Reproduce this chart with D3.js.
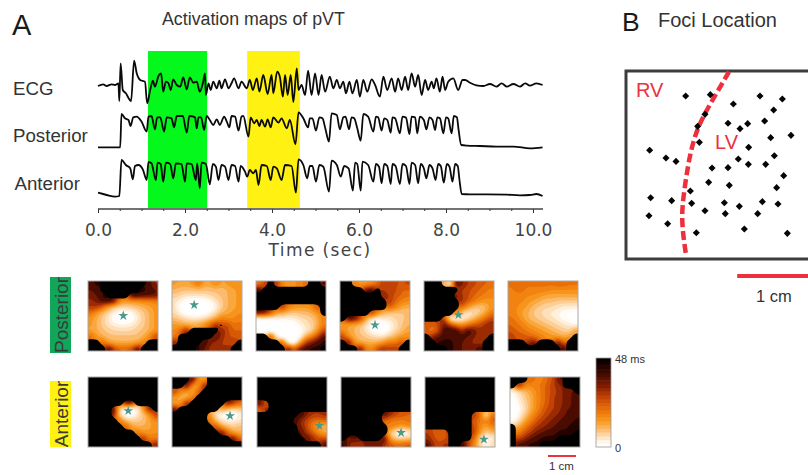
<!DOCTYPE html>
<html>
<head>
<meta charset="utf-8">
<script src="https://cdn.jsdelivr.net/npm/d3@7"></script>
<style>
  html, body { margin: 0; padding: 0; background: #fff; overflow: hidden; }
  text { font-family: "Liberation Sans", Arial, sans-serif; fill: #333; }
</style>
</head>
<body>
<div class="vis-holder"></div>
<script>
// time of each trace point (sec) and its height (arbitrary units)
var ecgTime = [0,0.12,0.2,0.31,0.39,0.47,0.49,0.52,0.57,0.64,0.76,0.83,0.89,0.97,1.08,1.13,1.2,1.26,1.31,1.39,1.45,1.5,1.56,1.62,1.67,1.73,1.81,1.89,1.96,2.04,2.11,2.19,2.27,2.34,2.41,2.46,2.48,2.54,2.59,2.65,2.73,2.79,2.84,2.92,3,3.07,3.13,3.23,3.3,3.42,3.49,3.56,3.65,3.71,3.8,3.9,3.99,4.03,4.12,4.18,4.25,4.3,4.36,4.43,4.49,4.57,4.61,4.68,4.76,4.83,4.91,4.99,5.07,5.14,5.22,5.33,5.41,5.49,5.56,5.64,5.7,5.78,5.85,5.95,6.02,6.1,6.19,6.29,6.37,6.48,6.56,6.65,6.75,6.83,6.9,6.98,7.06,7.13,7.21,7.29,7.36,7.44,7.52,7.59,7.67,7.72,7.78,7.86,7.92,7.98,8.05,8.17,8.28,8.38,8.44,8.55,8.7,8.86,9.01,9.16,9.28,9.4,9.55,9.7,9.82,9.93,10.08,10.22];
var ecgValue = [0,1.7,0,1.7,1,2.7,-15,22.7,-4,-7.3,-15,25.3,12.7,6,4.3,-17.3,-4,5.3,-0.7,10,12.7,-5.7,4.3,2.7,-4,6.7,1,-0.7,8.7,-3.3,8.7,3.3,4.3,-5.7,2.7,12.7,-9,2.7,-4,4.3,-2.3,5.3,-2.3,6.7,-2.3,2.7,7.7,-2.3,4.3,-2.3,6,-4,7.7,-5.7,11,-8,11,-7.3,14.3,9.3,-10.7,11,-9,11,-16,17.7,-4,1,-9,15.3,-9,12.7,-9,11,-5.7,9.3,-2.3,6,-2.3,4.3,-7.3,4.3,-7.3,6,-10.7,6,-5.7,6.7,1,-10.7,9.3,-4,7.7,-5.7,7.7,-4,9.3,-4,12.7,-0.7,11,-9,6,-4,4.3,-2.3,7.7,-5.7,9.3,-4,4.3,7.7,-4,6,6,3.3,0.7,0,2,-0.7,2.7,-0.7,2,-0.7,2.7,0.3,2.7,1];

var posteriorTime = [0,0.51,0.54,0.62,0.7,0.75,0.81,0.89,1,1.12,1.16,1.23,1.31,1.36,1.43,1.52,1.58,1.69,1.75,1.81,1.95,2.04,2.1,2.23,2.27,2.31,2.37,2.44,2.5,2.57,2.65,2.73,2.8,2.9,2.96,3.02,3.07,3.15,3.23,3.3,3.34,3.46,3.51,3.59,3.65,3.71,3.76,3.84,3.9,3.97,4.03,4.15,4.22,4.34,4.41,4.54,4.61,4.72,4.83,4.87,4.93,5.01,5.09,5.16,5.23,5.31,5.37,5.49,5.56,5.64,5.69,5.77,5.83,5.89,5.96,6.04,6.1,6.21,6.33,6.39,6.44,6.52,6.58,6.65,6.73,6.77,6.83,6.94,7,7.08,7.16,7.21,7.29,7.34,7.4,7.49,7.55,7.62,7.69,7.75,7.8,7.86,7.94,8,8.05,8.13,8.18,8.25,8.29,8.35,8.48,8.78,9.16,9.55,9.93,10.22];
var posteriorValue = [0,0,33.3,29,27.3,21.3,30,30.7,25.7,15.7,30.7,31.3,18,30,30,15.7,30,29,20,31.3,31.3,14.7,31.3,30,19,30,30,17.3,31.3,27.3,22.3,28,22.3,30.7,25.7,20,31.3,30.7,16.7,30.7,31.3,10.7,30,24,27.3,21.3,27.3,20.7,28,20,30,24.7,29,19,27.3,3,35,29,20,29,29,16.7,30,29,18,5.7,34,32.3,18,30,30.7,18,30,29,19,6.7,33.3,30.7,15.7,30.7,30,16.7,29,27.3,14.7,30,29,14,30.7,29.7,13.3,30.7,30,14,30.7,27.3,18,30,27.3,17.3,30,29,14,30,29,14,31.3,30,17.3,2.3,1.7,1.3,0.7,0.7,-1,0];

var anteriorTime = [0,0.2,0.39,0.49,0.54,0.64,0.74,0.8,0.85,0.93,1.03,1.12,1.16,1.23,1.33,1.37,1.44,1.5,1.56,1.66,1.73,1.79,1.92,2,2.04,2.15,2.25,2.28,2.34,2.38,2.48,2.57,2.64,2.71,2.77,2.84,2.92,3,3.07,3.15,3.23,3.28,3.38,3.43,3.49,3.57,3.63,3.69,3.76,3.88,3.97,4.03,4.11,4.22,4.3,4.45,4.55,4.61,4.72,4.81,4.87,4.93,5.01,5.09,5.18,5.31,5.37,5.49,5.58,5.66,5.76,5.86,5.91,5.96,6.04,6.08,6.21,6.33,6.39,6.46,6.52,6.58,6.65,6.73,6.77,6.84,6.94,7,7.08,7.16,7.21,7.29,7.36,7.42,7.49,7.55,7.62,7.69,7.76,7.82,7.88,7.95,8.02,8.08,8.15,8.21,8.27,8.31,8.36,8.55,8.94,9.4,9.7,9.93,10.08,10.22];
var anteriorValue = [3.3,1,-0.7,0,36,31,27.7,16.7,30,31,26.7,16,34,32.7,16,33.3,32,14.3,33.3,32,17.7,32.7,32,14.3,32.7,32,16,32.7,7.7,33.3,32,11.7,32,29.3,16,31,29.3,16,31,30,14.3,30,24.3,19.3,26,22.7,26,11,31,30,16,29.3,27.7,16,31,30,3.3,36.7,31,17.7,30,30,14.3,31,29.3,4.3,35.3,31,19.3,30,27.7,5.3,33.3,32,5.3,34.3,31,14.3,32,29.3,12.7,32,30,12,32,30,12,32,30,12,33.3,31,12.7,32,27.7,17.7,31,27.7,16,32,30,13.3,32,29.3,14.3,32,30,16,2,1.7,1.7,1.3,0.7,1,2,0];

// time windows of the two highlighted episodes (sec)
var greenWindow = [1.15, 2.51];
var yellowWindow = [3.43, 4.64];
var majorTicks = [0, 2, 4, 6, 8, 10];
var minorTicks = [0.5, 1, 1.5, 2.5, 3, 3.5, 4.5, 5, 5.5, 6.5, 7, 7.5, 8.5, 9, 9.5];

// foci, x and y in mm from the top left corner of the frame
var fociX = [7.14,10.04,12.75,15.88,18.51,17.49,12.12,14.43,13.53,16.43,8.55,8.75,17.14,19.53,14.55,2.9,4.82,6,13.33,17.57,14.51,16.55,10.24,12.12,18.67,9.84,12.27,17.84,7.69,3.02,5.49,7.84,11.69,16.16,18,13.45,9.41,11.8,15.61,2.82,5.02,8.39,14.04,19.1,9.41];
var fociY = [3.06,2.9,4,3.06,3.41,4.71,6.27,6.31,6.9,6,6.63,8.51,7.96,7.69,9.1,9.45,10.35,10.75,10.47,10.08,11.1,11.1,11.53,11.49,12.43,13.22,13.57,13.84,14.24,15.02,15.37,15.69,15.61,15.49,15.76,16.04,16.55,16.9,16.9,17.14,18.08,19.14,18.71,19.22,5.22];
// RV / LV border, mm
var borderX = [12.24,10.98,9.61,8.51,7.76,7.33,6.86,6.67,6.86,7.18];
var borderY = [0.2,2.35,4.71,6.86,9.41,11.76,14.9,17.25,19.6,21.76];

// activation maps, shade level read from the map colours on a 12x12 grid, 48 = black (not activated)
var posteriorMaps = [
 [[44,46,48,48,48,48,48,48,48,48,44,38],[42,44,48,48,48,48,48,48,48,46,44,42],[40,42,46,48,48,48,48,46,46,44,44,42],[38,40,44,46,44,24,22,22,22,24,24,26],[36,36,30,20,14,12,12,14,16,18,20,22],[28,22,16,12,6,2,2,4,10,14,18,22],[22,18,14,8,2,0,0,2,8,14,18,22],[22,18,14,10,8,6,6,8,12,14,18,22],[20,18,16,14,12,12,12,12,14,16,18,22],[30,22,18,16,16,16,16,16,16,18,24,36],[48,48,30,20,18,18,18,18,18,26,48,48],[48,48,48,46,34,30,30,32,46,48,48,48]],
 [[22,20,20,22,30,20,20,26,20,22,24,24],[18,16,16,16,16,16,16,16,16,18,20,22],[14,12,10,10,10,10,12,14,16,18,20,22],[10,6,2,0,0,2,4,10,14,18,20,22],[10,2,0,0,0,0,2,6,14,18,20,22],[12,6,2,0,0,2,6,12,18,20,22,24],[16,14,12,10,10,12,16,20,28,24,24,26],[22,20,18,18,20,24,30,40,48,34,28,28],[24,30,44,48,48,48,48,48,40,34,30,30],[26,48,48,48,48,48,48,44,38,34,32,32],[40,48,48,48,48,46,40,38,36,34,36,48],[48,48,48,48,46,42,38,36,36,38,48,48]],
 [[26,34,48,38,24,22,24,24,30,48,48,42],[46,48,48,48,48,48,48,48,48,48,48,48],[48,48,48,48,48,48,48,48,48,48,48,48],[48,48,48,48,48,48,48,48,48,48,48,48],[48,48,48,48,40,26,24,22,22,24,34,48],[44,44,34,22,18,16,14,16,16,18,22,48],[2,2,4,6,6,6,8,10,12,14,18,28],[0,0,0,0,0,0,2,6,10,12,18,26],[6,2,0,0,0,0,0,2,8,12,22,34],[48,48,40,8,0,0,0,4,18,26,34,44],[48,48,48,48,36,4,0,18,36,40,44,46],[48,48,48,48,48,44,30,42,44,46,46,48]],
 [[48,48,26,22,22,24,30,36,34,34,32,34],[48,48,48,48,44,46,48,36,34,34,30,30],[48,48,48,48,48,48,48,38,36,32,30,28],[48,48,48,48,48,48,48,48,36,30,26,24],[48,48,48,48,48,48,48,48,32,26,20,18],[48,48,48,48,48,40,24,18,14,14,14,16],[48,46,44,36,20,8,6,8,10,12,14,16],[22,20,18,16,10,2,0,0,4,10,14,18],[24,20,18,14,10,4,0,0,6,12,16,20],[36,22,18,16,14,12,10,10,14,18,22,24],[48,46,22,18,18,18,18,22,28,26,34,48],[48,48,48,44,26,24,34,38,34,36,48,48]],
 [[48,48,48,20,6,46,40,36,34,32,30,30],[48,48,48,48,48,48,36,34,32,30,28,26],[48,48,48,48,48,42,36,34,30,28,26,24],[48,48,48,48,48,48,38,32,28,24,22,24],[48,48,48,48,48,48,30,22,16,14,16,22],[48,48,48,48,48,28,14,8,10,14,20,28],[48,48,48,38,6,2,6,12,18,24,30,34],[34,30,34,42,36,28,24,28,32,34,38,40],[30,26,34,46,46,46,48,46,42,38,36,38],[48,40,42,44,44,44,44,42,40,36,36,48],[48,48,46,46,46,44,42,40,38,36,48,48],[48,48,48,48,46,44,42,40,40,46,48,48]],
 [[28,30,28,28,28,28,28,28,30,30,28,28],[26,28,28,26,26,26,26,24,24,24,24,24],[26,26,26,24,24,22,20,20,20,20,20,20],[26,26,24,22,20,18,16,16,14,14,14,14],[26,24,22,20,16,14,12,12,10,8,8,8],[26,24,20,18,14,12,10,8,6,4,2,0],[28,26,22,18,16,14,12,10,8,4,2,0],[30,28,26,22,20,18,16,14,12,10,8,6],[32,30,28,26,24,22,20,18,16,14,12,22],[36,32,32,30,28,26,24,22,20,18,22,48],[48,48,48,38,44,48,48,48,44,30,48,48],[48,48,48,48,48,48,48,48,48,46,48,48]]
];
var anteriorMaps = [
 [[48,48,48,48,48,48,48,48,48,48,48,48],[48,48,48,48,48,48,48,48,48,48,48,48],[48,48,48,48,48,48,48,48,48,48,48,48],[48,48,48,48,48,48,48,48,48,48,48,48],[48,48,48,48,48,48,44,44,48,48,48,48],[48,48,48,48,46,10,2,0,6,24,44,48],[48,48,48,48,40,10,2,2,10,14,22,36],[48,48,48,48,48,30,16,14,14,16,20,24],[48,48,48,48,48,48,34,20,18,18,20,22],[48,48,48,48,48,48,48,48,28,22,22,24],[48,48,48,48,48,48,48,48,48,40,26,26],[48,48,48,48,48,48,48,48,48,48,48,40]],
 [[48,48,48,46,24,20,48,48,48,48,48,48],[48,48,46,24,18,44,48,48,48,48,48,48],[36,24,22,16,34,48,48,48,48,48,48,48],[22,18,16,30,48,48,48,48,48,48,48,48],[20,22,44,48,48,48,48,48,48,44,38,30],[44,48,48,48,48,48,48,48,22,16,12,14],[48,48,48,48,48,48,24,10,2,0,0,6],[48,48,48,48,48,48,30,16,10,8,6,10],[48,48,48,48,48,48,48,36,20,16,14,16],[48,48,48,48,48,48,48,48,46,30,20,18],[48,48,48,48,48,48,48,48,48,48,46,30],[48,48,48,48,48,48,48,48,48,48,48,48]],
 [[48,48,48,48,48,48,48,48,48,48,48,48],[48,48,48,48,48,48,48,48,48,48,48,48],[48,48,48,48,48,48,48,48,48,48,48,48],[48,48,48,48,48,48,48,48,48,48,48,48],[46,30,48,48,48,48,48,48,48,48,48,48],[28,40,48,48,48,48,48,48,48,48,48,48],[48,48,48,48,48,48,48,46,40,36,36,38],[48,48,48,48,48,48,46,38,34,30,28,30],[48,48,48,48,48,48,48,40,34,26,20,16],[48,48,48,48,48,48,48,44,36,32,24,20],[48,48,48,48,48,48,48,48,44,38,34,32],[48,48,48,48,48,48,48,48,48,48,48,44]],
 [[48,48,48,48,48,48,48,48,48,48,48,48],[48,48,48,48,48,48,48,48,48,48,48,48],[48,48,48,48,48,48,48,48,48,48,48,48],[48,48,48,48,48,48,48,48,48,48,48,48],[48,48,48,48,48,48,48,48,48,48,48,48],[48,48,48,48,48,48,48,48,48,48,48,48],[48,48,48,48,48,48,48,44,38,34,32,30],[48,48,48,48,48,48,48,30,26,26,26,28],[48,48,48,48,48,48,48,48,28,24,22,24],[48,48,48,48,48,48,48,48,14,6,0,6],[48,42,44,48,48,48,48,46,20,12,12,14],[46,38,36,38,40,42,42,36,32,30,30,32]],
 [[48,48,48,48,48,48,48,48,48,48,48,48],[48,48,48,48,48,48,48,48,48,48,48,48],[48,48,48,48,48,48,48,48,48,48,48,48],[48,48,48,48,48,48,48,48,48,48,48,48],[48,48,48,48,48,48,48,48,48,48,48,48],[48,48,48,48,48,48,48,48,48,48,48,48],[48,48,48,48,48,48,48,48,36,30,6,30],[48,48,48,48,48,48,48,48,32,26,26,32],[48,48,48,48,48,48,48,48,34,24,20,26],[36,32,30,34,48,48,48,48,36,22,14,18],[38,34,30,32,48,48,48,48,30,10,2,8],[44,36,34,38,48,48,46,34,24,12,4,12]],
 [[48,48,48,30,26,26,30,34,44,48,48,48],[48,44,26,24,26,28,32,36,38,48,48,48],[6,10,16,20,24,28,32,34,38,40,42,48],[2,8,14,18,24,28,32,36,38,40,42,44],[0,6,12,18,24,28,32,36,38,40,42,44],[0,4,10,18,24,30,34,36,38,42,42,44],[0,6,14,22,28,32,36,38,40,42,44,44],[4,10,20,26,32,36,38,40,42,44,44,46],[48,20,26,32,36,38,40,42,44,44,46,46],[48,26,32,36,40,42,44,44,46,46,46,48],[48,34,38,42,44,46,46,46,48,48,48,48],[48,44,44,46,46,48,48,48,48,48,48,48]]
];
// earliest activation site in each map as [column, row] of the grid
var posteriorStars = [[6.05,5.95],[3.8,4.1],null,[6,7.55],[5.9,5.8],null];
var anteriorStars = [[6.9,5.8],[9.95,6.65],[10.7,8.35],[10.3,9.55],[10.1,10.7],null];

var width = 808;
var height = 475;

var svg = d3.select(".vis-holder")
			.append("svg")
			.attr("width", width)
			.attr("height", height)
			.style("display", "block");

// ---- panel A, traces ----
var xScale = d3.scaleLinear().domain([0, 10.23]).range([98, 543]);

function addBand(win, color) {
	svg.append("rect")
	   .attr("x", xScale(win[0]))
	   .attr("y", 51)
	   .attr("width", xScale(win[1]) - xScale(win[0]))
	   .attr("height", 157)
	   .attr("fill", color);
}
addBand(greenWindow, "#04f81c");
addBand(yellowWindow, "#fff112");

function addTrace(times, values, base) {
	// 1 unit is 1 px, base is where the zero of the trace sits
	var yScale = d3.scaleLinear().domain([0, 40]).range([base, base - 40]);
	var line = d3.line()
				 .x(function(d, i) { return xScale(times[i]); })
				 .y(function(d) { return yScale(d); })
				 .curve(d3.curveMonotoneX);
	svg.append("path")
	   .attr("d", line(values))
	   .attr("fill", "none")
	   .attr("stroke", "#0a0a0a")
	   .attr("stroke-width", 1.8)
	   .attr("stroke-linejoin", "round");
}
addTrace(ecgTime, ecgValue, 86);
addTrace(posteriorTime, posteriorValue, 147.3);
addTrace(anteriorTime, anteriorValue, 196);

// axis, long ticks with labels and short ones without
var axisY = 209;
var majorAxis = svg.append("g")
				   .attr("transform", "translate(0," + axisY + ")")
				   .call(d3.axisBottom(xScale).tickValues(majorTicks).tickSize(4).tickFormat(d3.format(".1f")));
var minorAxis = svg.append("g")
				   .attr("transform", "translate(0," + axisY + ")")
				   .call(d3.axisBottom(xScale).tickValues(minorTicks).tickSize(2).tickFormat(""));
majorAxis.select(".domain").attr("stroke", "#444").attr("stroke-width", 1.6).attr("d", "M98,0H543");
minorAxis.select(".domain").remove();
svg.selectAll(".tick line").attr("stroke", "#333");
majorAxis.selectAll(".tick text")
		 .attr("y", 14)
		 .attr("dy", 13)
		 .style("font-family", "'DejaVu Sans'")
		 .style("font-size", "17px")
		 .style("fill", "#444");

svg.append("text")
   .attr("x", 320)
   .attr("y", 256)
   .attr("text-anchor", "middle")
   .style("font-family", "'DejaVu Sans'")
   .style("font-size", "17px")
   .style("letter-spacing", "1.4px")
   .style("fill", "#444")
   .text("Time (sec)");

function addLabel(x, y, size, str, color) {
	return svg.append("text")
			  .attr("x", x)
			  .attr("y", y)
			  .style("font-size", size + "px")
			  .style("fill", color || "#333")
			  .text(str);
}
addLabel(12, 35, 29, "A", "#1a1a1a");
addLabel(162, 25, 17.8, "Activation maps of pVT");
addLabel(13, 95, 18.7, "ECG");
addLabel(13, 142, 18.7, "Posterior");
addLabel(14.5, 190, 18.7, "Anterior");

// ---- panel B, foci ----
addLabel(622, 31, 26.5, "B", "#1a1a1a");
addLabel(658, 27, 20, "Foci Location");

var frame = { x: 625, y: 70 };
var mmX = d3.scaleLinear().domain([0, 10]).range([frame.x, frame.x + 85]);
var mmY = d3.scaleLinear().domain([0, 10]).range([frame.y, frame.y + 85]);

svg.append("rect")
   .attr("x", frame.x + 1)
   .attr("y", frame.y + 1)
   .attr("width", 200)
   .attr("height", 188)
   .attr("fill", "none")
   .attr("stroke", "#3c3c3c")
   .attr("stroke-width", 3);

var border = d3.line()
			   .x(function(d, i) { return mmX(borderX[i]); })
			   .y(function(d) { return mmY(d); })
			   .curve(d3.curveBasis);
svg.append("path")
   .attr("d", border(borderY))
   .attr("fill", "none")
   .attr("stroke", "#ee2f3c")
   .attr("stroke-width", 4.5)
   .attr("stroke-dasharray", "9 4");

svg.append("g")
   .selectAll("path")
   .data(fociX)
   .enter()
   .append("path")
   .attr("d", d3.symbol(d3.symbolDiamond2, 32))
   .attr("transform", function(d, i) { return "translate(" + mmX(d) + "," + mmY(fociY[i]) + ")"; })
   .attr("fill", "#050505");

addLabel(636, 97, 20, "RV", "#ee3040");
addLabel(715, 149, 20, "LV", "#ee3040");

svg.append("rect").attr("x", mmX(13.2)).attr("y", 274).attr("width", 85).attr("height", 4).attr("fill", "#ee2f3c");
addLabel(756, 302, 16.5, "1 cm");

// ---- activation maps ----
var shadeStops = [0, 4, 8, 14, 20, 26, 32, 38, 44, 48];
var shadeColors = ["#ffffff", "#fffaf2", "#fee6c8", "#fcc27c", "#f99a1e", "#ee780a", "#cc4a06", "#821c02", "#2e0400", "#000000"];
var colorScale = d3.scaleLinear().domain(shadeStops).range(shadeColors);
// which shade level each ms value of the colour bar has
var barMs = [0, 5, 9, 14, 19, 26, 33, 42, 48];
var barShade = [0, 8, 14, 20, 26, 32, 38, 44, 48];
var msToShade = d3.scaleLinear().domain(barMs).range(barShade);

var mapThresholds = d3.range(0, 47, 3);
var mapSize = 70;
var gridSize = 12;
var cell = mapSize / gridSize;
var upscale = 4;

// left edges of the maps in the two rows
var posteriorLeft = [88, 172, 256, 340, 424, 508];
var anteriorLeft = [88, 172, 257, 341, 425, 510];
var posteriorTop = 281;
var anteriorTop = 377;

// black cells take the colour of their neighbours, the black itself is drawn as its own mask
function fillBlack(grid) {
	var out = grid.map(function(row) { return row.map(function(v) { return v >= 47 ? null : v; }); });
	var missing = true;
	var guard = 0;
	while (missing && guard < 30) {
		missing = false;
		guard++;
		var next = out.map(function(row) { return row.slice(); });
		for (var r = 0; r < gridSize; r++) {
			for (var c = 0; c < gridSize; c++) {
				if (out[r][c] !== null) continue;
				var vals = [];
				for (var dr = -1; dr <= 1; dr++) {
					for (var dc = -1; dc <= 1; dc++) {
						if (out[r + dr] && out[r + dr][c + dc] != null) vals.push(out[r + dr][c + dc]);
					}
				}
				if (vals.length) next[r][c] = d3.mean(vals);
				else missing = true;
			}
		}
		out = next;
	}
	return out;
}

// grid with one cell of repeated edge around it, drawn on a finer mesh so contours come out round
function fineGrid(grid, radius) {
	var n = (gridSize + 2) * upscale;
	var data = new Float32Array(n * n);
	function at(r, c) {
		return grid[Math.max(0, Math.min(gridSize - 1, r))][Math.max(0, Math.min(gridSize - 1, c))];
	}
	for (var y = 0; y < n; y++) {
		for (var x = 0; x < n; x++) {
			var fy = (y + 0.5) / upscale - 1.5;
			var fx = (x + 0.5) / upscale - 1.5;
			var r0 = Math.floor(fy);
			var c0 = Math.floor(fx);
			var ty = fy - r0;
			var tx = fx - c0;
			data[y * n + x] = (at(r0, c0) * (1 - tx) + at(r0, c0 + 1) * tx) * (1 - ty) +
							  (at(r0 + 1, c0) * (1 - tx) + at(r0 + 1, c0 + 1) * tx) * ty;
		}
	}
	d3.blur2({ data: data, width: n, height: n }, radius);
	return data;
}

var fineSize = (gridSize + 2) * upscale;
var contourGen = d3.contours().size([fineSize, fineSize]).thresholds(mapThresholds);
var maskGen = d3.contours().size([fineSize, fineSize]).thresholds([0.5]);
var pathGen = d3.geoPath(d3.geoIdentity().scale(cell / upscale).translate([-cell, -cell]));
var defs = svg.append("defs");
defs.append("clipPath").attr("id", "map-clip")
	.append("rect").attr("width", mapSize).attr("height", mapSize);

function addMap(grid, left, top, star) {
	var g = svg.append("g").attr("transform", "translate(" + left + "," + top + ")");
	var inner = g.append("g").attr("clip-path", "url(#map-clip)");
	inner.selectAll(".level")
		 .data(contourGen(fineGrid(fillBlack(grid), 1)))
		 .enter()
		 .append("path")
		 .attr("class", "level")
		 .attr("d", pathGen)
		 .attr("fill", function(d) { return colorScale(d.value); });
	var mask = grid.map(function(row) { return row.map(function(v) { return v >= 47 ? 1 : 0; }); });
	inner.selectAll(".mask")
		 .data(maskGen(fineGrid(mask, 1)))
		 .enter()
		 .append("path")
		 .attr("class", "mask")
		 .attr("d", pathGen)
		 .attr("fill", "#000");
	g.append("rect")
	 .attr("width", mapSize)
	 .attr("height", mapSize)
	 .attr("fill", "none")
	 .attr("stroke", "#a8a8a8")
	 .attr("stroke-width", 1);
	if (star) {
		g.append("path")
		 .attr("d", d3.symbol(d3.symbolStar, 30))
		 .attr("transform", "translate(" + star[0] * cell + "," + star[1] * cell + ")")
		 .attr("fill", "#4a9a8c");
	}
}
posteriorMaps.forEach(function(m, i) { addMap(m, posteriorLeft[i], posteriorTop, posteriorStars[i]); });
anteriorMaps.forEach(function(m, i) { addMap(m, anteriorLeft[i], anteriorTop, anteriorStars[i]); });

// rotated row labels on their coloured tags
function addRowTag(y0, y1, color, str) {
	svg.append("rect").attr("x", 50).attr("y", y0).attr("width", 21).attr("height", y1 - y0).attr("fill", color);
	svg.append("text")
	   .attr("transform", "translate(68," + ((y0 + y1) / 2) + ")rotate(-90)")
	   .attr("text-anchor", "middle")
	   .style("font-size", "19px")
	   .style("fill", "#3a3a3a")
	   .text(str);
}
addRowTag(277, 353, "#12a65a", "Posterior");
addRowTag(381, 447, "#fff112", "Anterior");

// colour bar
var barScale = d3.scaleLinear().domain([0, 48]).range([447, 358]);
svg.append("g")
   .selectAll("rect")
   .data(d3.range(0, 48, 2))
   .enter()
   .append("rect")
   .attr("x", 596)
   .attr("y", function(d) { return barScale(d + 2); })
   .attr("width", 15)
   .attr("height", function(d) { return barScale(d) - barScale(d + 2) + 0.5; })
   .attr("fill", function(d) { return colorScale(msToShade(d + 1)); });
svg.append("rect").attr("x", 596).attr("y", 358).attr("width", 15).attr("height", 89)
   .attr("fill", "none").attr("stroke", "#999").attr("stroke-width", 0.8);
addLabel(615, 363, 11, "48 ms");
addLabel(615, 452, 11, "0");

// small scale bar
svg.append("rect").attr("x", 548).attr("y", 455).attr("width", 28).attr("height", 2).attr("fill", "#ee2f3c");
addLabel(549, 470, 11.5, "1 cm");
</script>
</body>
</html>
